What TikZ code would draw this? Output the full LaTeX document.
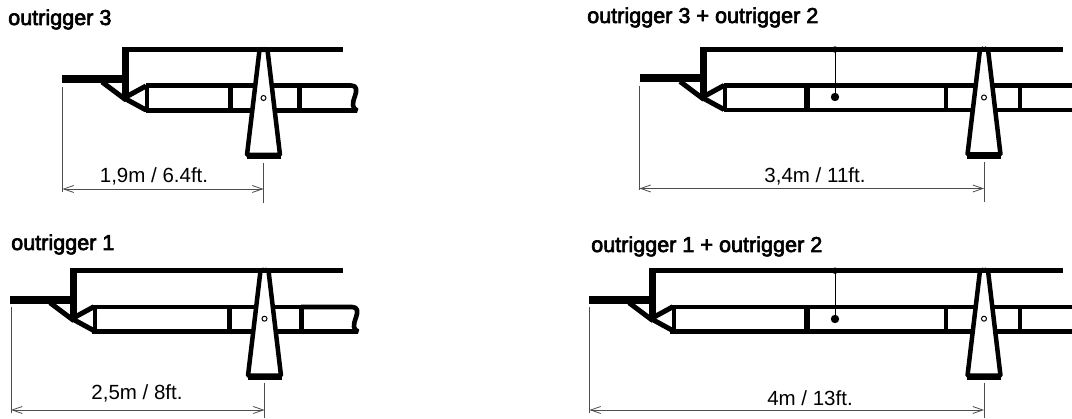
\documentclass[tikz,border=0pt]{standalone}
\usepackage{fontspec}
\setmainfont{Liberation Sans}
\newfontfamily\titlefont[FakeBold=3]{Liberation Sans}
\usetikzlibrary{arrows.meta}
\tikzset{
  heavy/.style={line width=5pt,line cap=butt,line join=miter},
  rail/.style={line width=4.6pt,line join=bevel},
  thin dim/.style={line width=0.8pt,draw=black!70},
  dimarrow/.style={thin dim,{Straight Barb[length=10pt,width=7pt]}-{Straight Barb[length=10pt,width=7pt]}},
  title/.style={anchor=base west,font=\titlefont\fontsize{21.6}{24}\selectfont,inner sep=0pt},
  dimtext/.style={font=\fontsize{20.5}{23}\selectfont,inner sep=0pt}
}
% left end: bar, web, strut and nose, measured from the top of the web
\newcommand{\headpart}[2]{
  \begin{scope}[shift={(#1,#2)}]
    \draw[line width=8pt] (-63,29) -- (-3,29);
    \draw[line width=7pt] (0,-2.5) -- (0,50);
    \draw[heavy] (-23,32) -- (1,50);
    \draw[heavy] (-1,48) -- (21,36);
    \draw[heavy] (-1,48) -- (21,60);
    \draw[line width=4pt] (22,35) -- (22,62);
  \end{scope}
}
% leg seen from the end, measured from where it meets the top line
\newcommand{\legpart}[2]{
  \begin{scope}[shift={(#1,#2)}]
    \draw[line width=4.5pt,fill=white,line join=bevel] (-4,0) -- (-16.5,105) -- (16.5,105) -- (4,0) -- cycle;
    \draw[line width=5pt] (-17,107) -- (17,107);
    \draw[line width=1pt,fill=white] (0,48) circle (2.5);
    \draw[line width=1.2pt] (-1.5,-3) -- (-1,1) (1.5,-3) -- (1,1);
  \end{scope}
}
\newcommand{\divider}[4]{\draw[line width=#4pt] (#1,#2) -- (#1,#3);}
\newcommand{\pendant}[3]{
  \draw[line width=1pt] (#1,#2) -- (#1,#3);
  \fill (#1,#2) circle (3.2);
  \fill (#1,#3) circle (4.2);
}
\begin{document}
\begin{tikzpicture}[x=1pt,y=-1pt]
  \useasboundingbox (0,0) rectangle (1072,419);

  % outrigger 3
  \node[title] (t1) at (8,25) {outrigger 3};
  \draw[rail] (146,85.5) -- (303,85.5) (146,110.5) -- (303,110.5);
  \draw[rail] (299,85.5) -- (351,85.5) .. controls (357,85.5) and (357,90) .. (355,96) .. controls (352,104) and (352,108) .. (357,110.5) -- (299,110.5);
  \divider{230}{84}{112}{5}
  \divider{299}{84}{112}{5}
  \headpart{125}{50}
  \legpart{263.5}{50}
  \draw[heavy] (122,50) -- (343,50);
  \coordinate (a1) at (62.5,87);
  \coordinate (a2) at (62.5,192);
  \coordinate (a3) at (263.5,163);
  \coordinate (a4) at (263.5,203);
  \coordinate (a5) at (62.5,189);
  \coordinate (a6) at (263.5,189);
  \draw[thin dim] (a1) -- (a2);
  \draw[thin dim] (a3) -- (a4);
  \draw[dimarrow] (a5) -- (a6);
  \node[dimtext] (d1) at (154,176) {1,9m / 6.4ft.};

  % outrigger 3 + outrigger 2
  \node[title] (t2) at (587,23) {outrigger 3 + outrigger 2};
  \draw[rail] (724,85.5) -- (1072,85.5) (724,110) -- (1072,110);
  \divider{807}{84}{112}{6}
  \divider{946}{84}{112}{4.5}
  \divider{1020}{84}{112}{4.5}
  \headpart{703}{49.5}
  \legpart{984}{49.5}
  \draw[heavy] (700,49.5) -- (1063,49.5);
  \pendant{835}{49.5}{97}
  \coordinate (b1) at (639.5,86);
  \coordinate (b2) at (639.5,190);
  \coordinate (b3) at (984,162);
  \coordinate (b4) at (984,202);
  \coordinate (b5) at (639.5,188.5);
  \coordinate (b6) at (984,188.5);
  \draw[thin dim] (b1) -- (b2);
  \draw[thin dim] (b3) -- (b4);
  \draw[dimarrow] (b5) -- (b6);
  \node[dimtext] (d2) at (815,176) {3,4m / 11ft.};

  % outrigger 1
  \node[title] (t3) at (11,250) {outrigger 1};
  \draw[rail] (92,307) -- (305,307) (92,331.5) -- (305,331.5);
  \draw[rail] (301,307) -- (352,307) .. controls (358,307) and (358,311.5) .. (356,317.5) .. controls (353,325.5) and (353,329.5) .. (358,331.5) -- (301,331.5);
  \divider{229}{305}{333}{5}
  \divider{301}{305}{333}{5}
  \headpart{73}{270.7}
  \legpart{264.5}{270.7}
  \draw[heavy] (70,270.7) -- (343,270.7);
  \coordinate (c1) at (11,307);
  \coordinate (c2) at (11,413);
  \coordinate (c3) at (264.5,383);
  \coordinate (c4) at (264.5,418);
  \coordinate (c5) at (11,410);
  \coordinate (c6) at (264.5,410);
  \draw[thin dim] (c1) -- (c2);
  \draw[thin dim] (c3) -- (c4);
  \draw[dimarrow] (c5) -- (c6);
  \node[dimtext] (d3) at (137,393) {2,5m / 8ft.};

  % outrigger 1 + outrigger 2
  \node[title] (t4) at (591,252) {outrigger 1 + outrigger 2};
  \draw[rail] (670,307) -- (1072,307) (670,331.5) -- (1072,331.5);
  \divider{807}{305}{333}{6}
  \divider{946}{305}{333}{4.5}
  \divider{1020}{305}{333}{4.5}
  \headpart{652}{270.7}
  \legpart{984}{270.7}
  \draw[heavy] (649,270.7) -- (1063,270.7);
  \pendant{835}{270.7}{319}
  \coordinate (e1) at (589.5,307);
  \coordinate (e2) at (589.5,413);
  \coordinate (e3) at (984,383);
  \coordinate (e4) at (984,418);
  \coordinate (e5) at (589.5,410);
  \coordinate (e6) at (984,410);
  \draw[thin dim] (e1) -- (e2);
  \draw[thin dim] (e3) -- (e4);
  \draw[dimarrow] (e5) -- (e6);
  \node[dimtext] (d4) at (810,398) {4m / 13ft.};
\end{tikzpicture}
\end{document}
